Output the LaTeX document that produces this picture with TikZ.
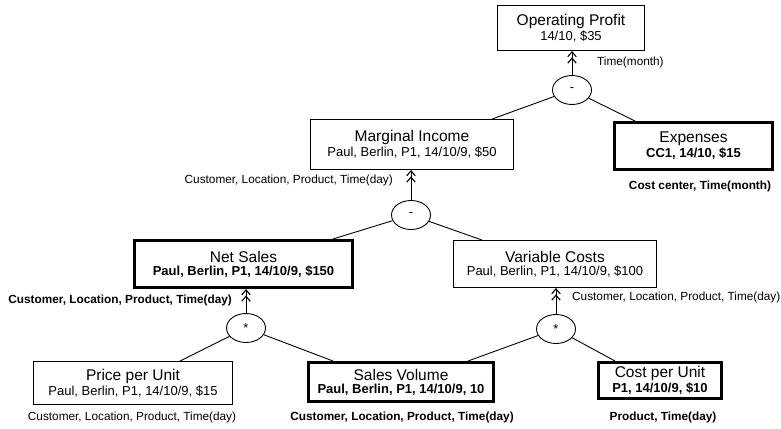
\documentclass[tikz,border=0pt]{standalone}
\usepackage{fontspec}
\setmainfont{Liberation Sans}
\usetikzlibrary{arrows.meta,calc,shapes.geometric}
\newcommand\boxtext[2]{{\fontsize{15.5}{18}\selectfont #1}\\[1pt]{\fontsize{13}{15}\selectfont #2}}
\newcommand\boxtextb[2]{{\fontsize{15.5}{18}\selectfont #1}\\[1pt]{\fontsize{13}{15}\selectfont\bfseries #2}}
\begin{document}
\begin{tikzpicture}[x=1pt,y=-1pt,
  box/.style={draw,line width=0.9pt,align=center,inner sep=0pt,fill=white},
  tbox/.style={box,line width=3pt},
  opn/.style={draw,ellipse,line width=0.9pt,minimum width=39pt,minimum height=29pt,inner sep=0pt,font=\fontsize{13}{15}\selectfont},
  conn/.style={line width=0.9pt},
  dbl/.style={line width=1pt,-{Straight Barb[length=5pt,width=8.5pt,line width=1.1pt]Straight Barb[length=5pt,width=8.5pt,line width=1.1pt]}},
  lbl/.style={font=\fontsize{11.8}{14}\selectfont,inner sep=0pt},
  blbl/.style={inner sep=0pt,font=\fontsize{11.8}{14}\selectfont\bfseries}
]
\useasboundingbox (0,0) rectangle (781,428);

% boxes
\node[box, minimum width=147pt, minimum height=45pt] (op) at (571,28) {\boxtext{Operating Profit}{14/10, \$35}};
\node[box, minimum width=203pt, minimum height=50pt] (mi) at (412,144.5) {\boxtext{Marginal Income}{Paul, Berlin, P1, 14/10/9, \$50}};
\node[tbox, minimum width=158pt, minimum height=47pt] (ex) at (693.5,146) {\boxtextb{Expenses}{CC1, 14/10, \$15}};
\node[tbox, minimum width=218pt, minimum height=47pt] (ns) at (243.5,264) {\boxtextb{Net Sales}{Paul, Berlin, P1, 14/10/9, \$150}};
\node[box, minimum width=203pt, minimum height=47pt] (vc) at (555,264) {\boxtext{Variable Costs}{Paul, Berlin, P1, 14/10/9, \$100}};
\node[box, minimum width=199pt, minimum height=43pt] (pu) at (133,383) {\boxtext{Price per Unit}{Paul, Berlin, P1, 14/10/9, \$15}};
\node[tbox, minimum width=185pt, minimum height=39pt] (sv) at (401,382) {\boxtextb{Sales Volume}{Paul, Berlin, P1, 14/10/9, 10}};
\node[tbox, minimum width=123pt, minimum height=36pt] (cu) at (660,380.5) {\boxtextb{Cost per Unit}{P1, 14/10/9, \$10}};

% operators
\node[opn] (e1) at (572,90) {-};
\node[opn] (e2) at (411,215) {-};
\node[opn] (e3) at (246,328) {*};
\node[opn] (e4) at (556,329) {*};

% labels
\node[lbl, anchor=west] (ltm) at (597,62) {Time(month)};
\node[lbl, anchor=east] (lmi) at (393,180) {Customer, Location, Product, Time(day)};
\node[blbl] (lex) at (700,186) {Cost center, Time(month)};
\node[blbl, anchor=east] (lns) at (232,300) {Customer, Location, Product, Time(day)};
\node[lbl, anchor=west] (lvc) at (572,297) {Customer, Location, Product, Time(day)};
\node[lbl] (lpu) at (132,417) {Customer, Location, Product, Time(day)};
\node[blbl] (lsv) at (402,417) {Customer, Location, Product, Time(day)};
\node[blbl] (lcu) at (663,417) {Product, Time(day)};

% connectors
\draw[conn] (e1) -- ($(mi.north)+(80,0)$);
\draw[conn] (e1) -- ($(ex.north)+(-58.5,0)$);
\draw[conn] (e2) -- ($(ns.north)+(89.5,0)$);
\draw[conn] (e2) -- ($(vc.north)+(-73,0)$);
\draw[conn] (e3) -- ($(pu.north)+(47,0)$);
\draw[conn] (e3) -- ($(sv.north)+(-68,0)$);
\draw[conn] (e4) -- ($(sv.north)+(67,0)$);
\draw[conn] (e4) -- ($(cu.north)+(-45,0)$);

% aggregation arrows
\draw[dbl] (e1.north) -- (e1.north |- op.south);
\draw[dbl] (e2.north) -- (e2.north |- mi.south);
\draw[dbl] (e3.north) -- (e3.north |- ns.south);
\draw[dbl] (e4.north) -- (e4.north |- vc.south);
\end{tikzpicture}
\end{document}
